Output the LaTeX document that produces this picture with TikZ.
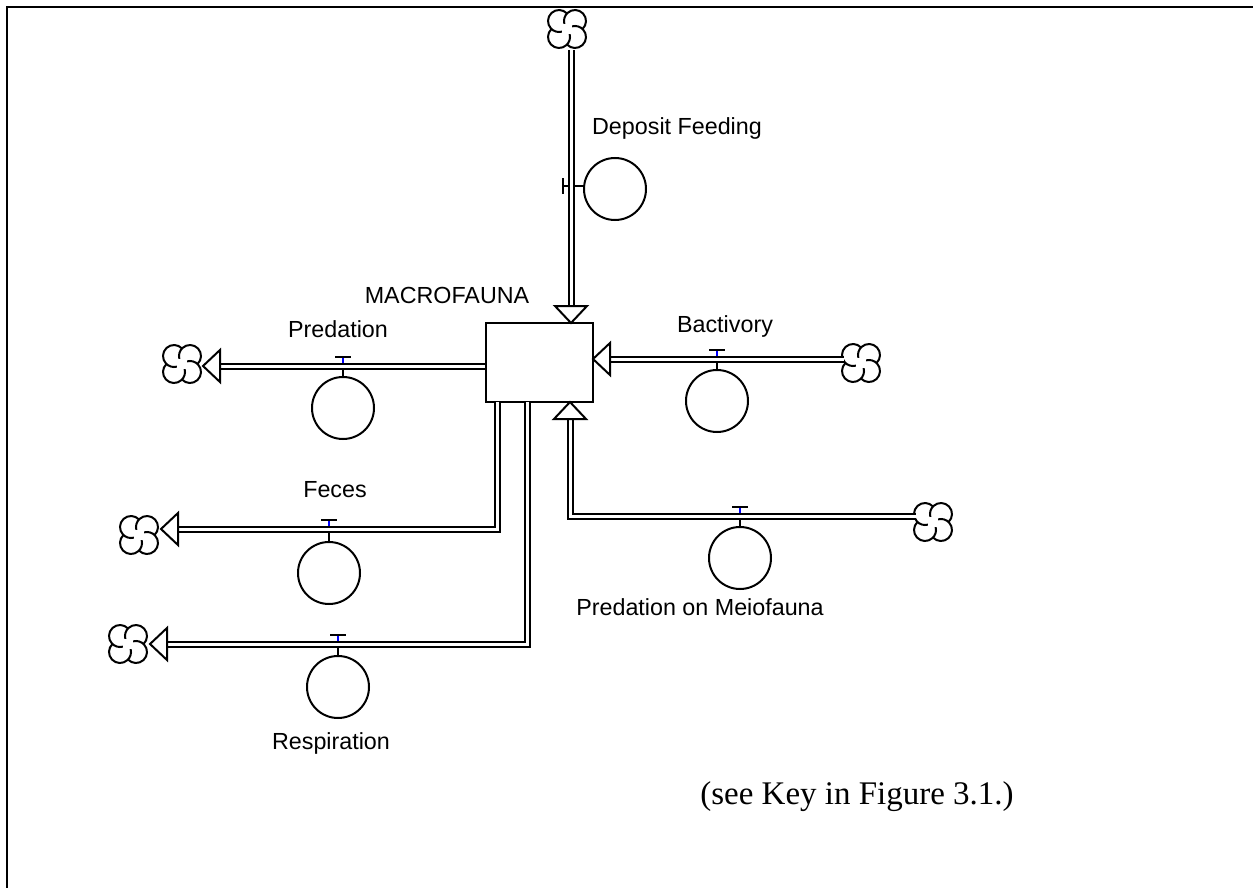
\documentclass[tikz,border=0pt]{standalone}
\usepackage{fontspec}
\setmainfont{Liberation Sans}
\newfontfamily\keyfont{Liberation Serif}
\usetikzlibrary{positioning}

\tikzset{
  pipe/.style={double, double distance=3pt, line width=2pt, line join=miter},
  stockbox/.style={draw, line width=2pt, minimum width=107pt, minimum height=79pt, inner sep=0pt},
  converter/.style={draw, circle, line width=2pt, minimum size=62pt, inner sep=0pt},
  flowlabel/.style={font=\fontsize{23.3}{28}\selectfont, inner sep=0pt},
  valvebar/.style={line width=2pt},
  valvestem/.style={line width=2pt, blue},
  cloud/.style={minimum size=42pt, inner sep=0pt, path picture={
      \foreach \a in {45,135,225,315}
        \draw[line width=2pt] ([shift={(\a:11.3pt)}]path picture bounding box.center)
          ++(\a-92:11pt) arc[start angle=\a-92, end angle=\a+150, radius=11pt];
    }},
  pics/head/.style={code={
      \draw[line width=2pt, fill=white, line join=miter] (0pt,0pt) -- (-17pt,16pt) -- (-17pt,-16pt) -- cycle;
    }}
}

\begin{document}
\begin{tikzpicture}[x=1pt, y=-1pt]
  \useasboundingbox (0,0) rectangle (1253,888);
  \draw[line width=2pt] (7,888) -- (7,7) -- (1253,7);

  % stock
  \node[stockbox] (macro) at (539,362.5) {};
  \node[flowlabel] (lmacro) at (447,295) {MACROFAUNA};

  % clouds
  \node[cloud] (srcDF) at (567,29) {};
  \node[cloud] (sinkPred) at (182,364) {};
  \node[cloud] (srcBact) at (861,363) {};
  \node[cloud] (sinkFec) at (139,535) {};
  \node[cloud] (sinkResp) at (128,644) {};
  \node[cloud] (srcMeio) at (933,522) {};

  % pipe points
  \coordinate (dfBase) at (571,306);
  \coordinate (dfTip) at (571,323);
  \coordinate (predOut) at (485,366);
  \coordinate (predBase) at (221,366);
  \coordinate (predTip) at (203,366);
  \coordinate (bactBase) at (608,359);
  \coordinate (bactTip) at (593,359);
  \coordinate (fecOut) at (497,402);
  \coordinate (fecBase) at (178,529);
  \coordinate (fecTip) at (161,529);
  \coordinate (respOut) at (527,402);
  \coordinate (respBase) at (168,644);
  \coordinate (respTip) at (150,644);
  \coordinate (meioBase) at (570,419);
  \coordinate (meioTip) at (570,402);

  % flows
  \draw[pipe] (srcDF.south -| dfBase) -- (dfBase);
  \pic[rotate=-90] at (dfTip) {head};
  \draw[pipe] (predOut) -- (predBase);
  \pic[rotate=180] at (predTip) {head};
  \draw[pipe] ([xshift=-17pt]srcBact.center |- bactBase) -- (bactBase);
  \pic[rotate=180] at (bactTip) {head};
  \draw[pipe] (fecOut) |- (fecBase);
  \pic[rotate=180] at (fecTip) {head};
  \draw[pipe] (respOut) |- (respBase);
  \pic[rotate=180] at (respTip) {head};
  \draw[pipe] ([xshift=-17pt]srcMeio.center |- 0,516) -| (meioBase);
  \pic[rotate=90] at (meioTip) {head};

  % converters
  \node[converter] (cvDF) at (615,189) {};
  \node[converter] (cvPred) at (343,408) {};
  \node[converter] (cvBact) at (717,401) {};
  \node[converter] (cvFec) at (329,573) {};
  \node[converter] (cvResp) at (338,687) {};
  \node[converter] (cvMeio) at (740,558) {};

  % valves
  \foreach \vx/\vy/\cv in {343/366/cvPred, 717/359/cvBact, 329/529/cvFec, 338/644/cvResp, 740/516/cvMeio}{
    \draw[valvebar] (\vx-8,\vy-9) -- (\vx+8,\vy-9);
    \draw[valvestem] (\vx,\vy-8) -- (\vx,\vy-3.5);
    \draw[valvebar] (\vx,\vy+3.5) -- (\cv.north);
  }
  \draw[valvebar] (563,178) -- (563,194);
  \draw[valvebar] (564,186) -- (567.5,186);
  \draw[valvebar] (574.5,186) -- (cvDF.west |- 0,186);

  % labels
  \node[flowlabel] (lDF) at (677,128) {Deposit Feeding};
  \node[flowlabel] (lPred) at (338,329) {Predation};
  \node[flowlabel] (lBact) at (725,326) {Bactivory};
  \node[flowlabel] (lFec) at (335,490) {Feces};
  \node[flowlabel] (lResp) at (331,743) {Respiration};
  \node[flowlabel] (lMeio) at (700,607) {Predation on Meiofauna};
  \node[font=\keyfont\fontsize{33}{38}\selectfont, inner sep=0pt] (key) at (857,797) {(see Key in Figure 3.1.)};
\end{tikzpicture}
\end{document}
